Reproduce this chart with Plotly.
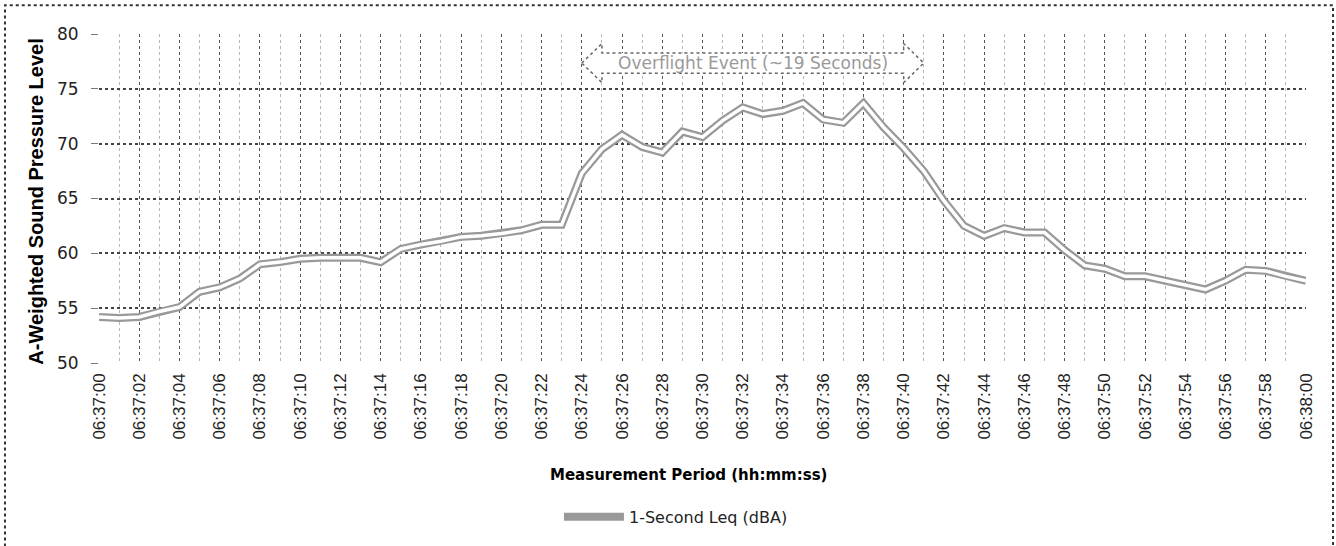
import plotly.graph_objects as go

# 1-second A-weighted Leq samples, 06:37:00 through 06:38:00
seconds = list(range(0, 61))
leq_dba = [
    54.2, 54.1, 54.2, 54.7, 55.1, 56.5, 56.9, 57.7, 59.0, 59.2,
    59.5, 59.6, 59.6, 59.6, 59.2, 60.4, 60.8, 61.1, 61.5, 61.6,
    61.8, 62.1, 62.6, 62.6, 67.3, 69.5, 70.8, 69.7, 69.2, 71.1,
    70.6, 72.1, 73.3, 72.7, 73.0, 73.7, 72.2, 71.9, 73.7, 71.5,
    69.6, 67.5, 64.8, 62.5, 61.6, 62.3, 61.9, 61.9, 60.3, 58.9,
    58.6, 57.9, 57.9, 57.5, 57.1, 56.7, 57.5, 58.5, 58.4, 57.9,
    57.5,
]
tick_seconds = list(range(0, 61, 2))
tick_labels = [f"06:{37 + s // 60:02d}:{s % 60:02d}" for s in tick_seconds]

# overflight event arrow extent (seconds) and vertical placement (dBA)
event_start, event_end = 24, 41
event_mid_y = 77.35

fig = go.Figure()

# hollow "double" line: dotted-grey outline with a white core
fig.add_trace(go.Scatter(
    x=seconds, y=leq_dba, mode="lines", name="1-Second Leq (dBA)",
    line=dict(color="#999999", width=8), showlegend=True,
))
fig.add_trace(go.Scatter(
    x=seconds, y=leq_dba, mode="lines", showlegend=False, hoverinfo="skip",
    line=dict(color="white", width=3.5),
))

# double-headed block arrow for the event
head = 1.0
body_h, head_h = 0.92, 1.78
x0, x1 = event_start, event_end
ym = event_mid_y
path = (
    f"M {x0},{ym} L {x0 + head},{ym + head_h} L {x0 + head},{ym + body_h} "
    f"L {x1 - head},{ym + body_h} L {x1 - head},{ym + head_h} L {x1},{ym} "
    f"L {x1 - head},{ym - head_h} L {x1 - head},{ym - body_h} "
    f"L {x0 + head},{ym - body_h} L {x0 + head},{ym - head_h} Z"
)
fig.add_shape(type="path", path=path, xref="x", yref="y",
              line=dict(color="#666666", width=1.5, dash="dot"),
              fillcolor="white", layer="above")
fig.add_annotation(x=(x0 + x1) / 2, y=ym, xref="x", yref="y",
                   text="Overflight Event (~19 Seconds)", showarrow=False,
                   font=dict(family="DejaVu Sans", size=17, color="#9a9a9a"))

# outer chart border
fig.add_shape(type="rect", xref="paper", yref="paper",
              x0=-0.0779, x1=1.0224, y0=-0.62, y1=1.0871,
              line=dict(color="#333333", width=2, dash="dot"),
              fillcolor="rgba(0,0,0,0)", layer="below")

# axis titles
fig.add_annotation(x=-0.0515, y=0.49, xref="paper", yref="paper",
                   xanchor="center",
                   text="<b>A-Weighted Sound Pressure Level</b>", textangle=-90,
                   showarrow=False, xshift=-1,
                   font=dict(family="Liberation Sans", size=20, color="black"))
fig.add_annotation(x=0.488, y=-0.34, xref="paper", yref="paper",
                   yanchor="middle",
                   text="<b>Measurement Period (hh:mm:ss)</b>", showarrow=False,
                   font=dict(family="DejaVu Sans", size=15, color="black"))

fig.update_xaxes(
    range=[0, 60], tickmode="array", tickvals=tick_seconds, ticktext=tick_labels,
    tickangle=-90, tickfont=dict(family="Liberation Sans", size=17, color="#222"),
    ticklabelstandoff=6,
    showgrid=True, gridcolor="#555555", griddash="dot", gridwidth=1,
    minor=dict(dtick=1, tick0=0, showgrid=True, gridcolor="#b5b5b5",
               griddash="dot", gridwidth=1),
    showline=False, zeroline=False, ticks="", automargin=False,
)
fig.update_yaxes(
    range=[50, 80], dtick=5, tick0=50,
    tickfont=dict(family="DejaVu Sans", size=17, color="#222"),
    showgrid=True, gridcolor="#444444", griddash="dot", gridwidth=2,
    ticks="outside", ticklen=7, tickcolor="#777777", ticklabelstandoff=9,
    showline=False, zeroline=False, automargin=False,
)

fig.update_layout(
    width=1336, height=546,
    margin=dict(l=99, r=30, t=34, b=179),
    plot_bgcolor="white", paper_bgcolor="white",
    showlegend=True,
    legend=dict(orientation="h", x=0.478, xanchor="center", y=-0.468,
                yanchor="middle", itemwidth=60,
                font=dict(family="DejaVu Sans", size=16, color="#222"),
                bgcolor="rgba(0,0,0,0)"),
)

fig.write_html("out.html")
